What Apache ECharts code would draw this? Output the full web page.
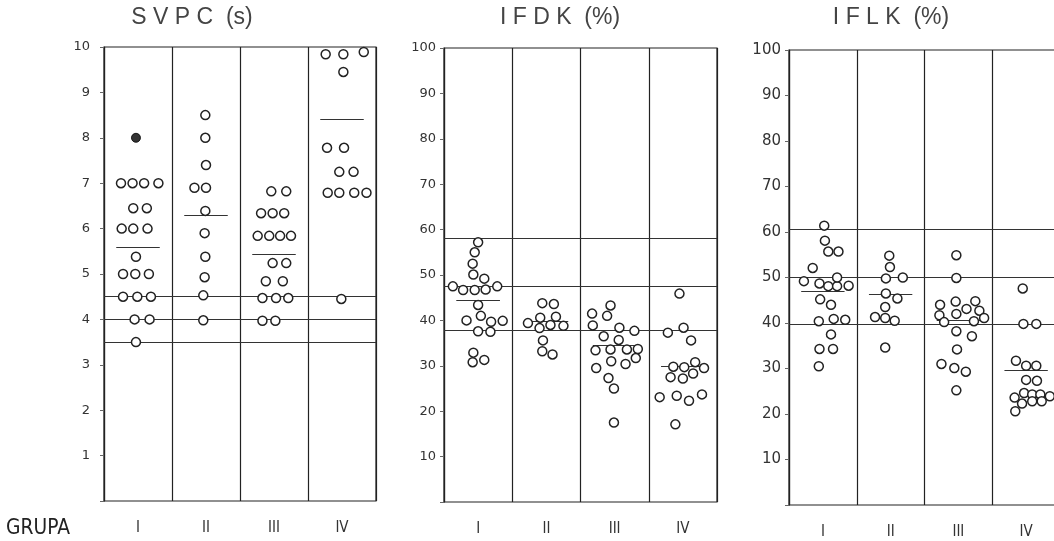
<!DOCTYPE html>
<html>
<head>
<meta charset="utf-8">
<script src="https://cdn.jsdelivr.net/npm/echarts@6/dist/echarts.min.js"></script>
<style>
html,body{margin:0;padding:0;background:#fff;overflow:hidden;width:1054px;height:541px;}
#chart{width:1080px;height:541px;}
</style>
</head>
<body>
<div id="chart"></div>
<script>
// ---- data ----
const groups = ['I', 'II', 'III', 'IV'];
const groupAxisTitle = 'GRUPA';
const titles = ['S V P C  (s)', 'I F D K  (%)', 'I F L K  (%)'];

// each point: [slot within the group's column (0..1), value]
const svpcI = [[0.25,7.0],[0.42,7.0],[0.59,7.0],[0.80,7.0],[0.43,6.45],[0.63,6.45],[0.26,6.0],[0.43,6.0],[0.64,6.0],[0.47,5.38],[0.28,5.0],[0.46,5.0],[0.66,5.0],[0.28,4.5],[0.49,4.5],[0.69,4.5],[0.45,4.0],[0.67,4.0],[0.47,3.5]];
const svpcIFilled = [[0.47,8.0]];
const svpcII = [[0.49,8.5],[0.49,8.0],[0.50,7.4],[0.33,6.9],[0.50,6.9],[0.49,6.39],[0.48,5.9],[0.49,5.38],[0.48,4.93],[0.46,4.53],[0.46,3.98]];
const svpcIII = [[0.46,6.82],[0.68,6.82],[0.31,6.34],[0.48,6.34],[0.65,6.34],[0.26,5.84],[0.43,5.84],[0.59,5.84],[0.75,5.84],[0.48,5.24],[0.68,5.24],[0.38,4.84],[0.63,4.84],[0.33,4.47],[0.53,4.47],[0.71,4.47],[0.33,3.97],[0.52,3.97]];
const svpcIV = [[0.26,9.84],[0.52,9.84],[0.82,9.89],[0.52,9.45],[0.28,7.78],[0.53,7.78],[0.46,7.25],[0.67,7.25],[0.29,6.79],[0.46,6.79],[0.68,6.79],[0.86,6.79],[0.49,4.45]];
const svpcMeans = [5.58, 6.29, 5.43, 8.4];
const svpcRefs = [4.5, 4.0, 3.5];

const ifdkI = [[0.50,57.2],[0.45,55.0],[0.42,52.5],[0.43,50.1],[0.59,49.2],[0.13,47.5],[0.28,46.7],[0.45,46.7],[0.61,46.8],[0.78,47.5],[0.50,43.4],[0.54,41.0],[0.33,40.0],[0.69,39.7],[0.86,39.9],[0.50,37.6],[0.68,37.5],[0.43,32.9],[0.42,30.8],[0.59,31.3]];
const ifdkII = [[0.44,43.8],[0.61,43.6],[0.41,40.6],[0.64,40.8],[0.23,39.4],[0.40,38.3],[0.56,39.0],[0.75,38.8],[0.45,35.6],[0.44,33.2],[0.59,32.5]];
const ifdkIII = [[0.44,43.3],[0.17,41.5],[0.39,41.0],[0.18,38.9],[0.57,38.4],[0.79,37.7],[0.34,36.5],[0.56,35.7],[0.22,33.4],[0.44,33.6],[0.68,33.6],[0.84,33.7],[0.45,31.0],[0.66,30.4],[0.81,31.7],[0.23,29.5],[0.41,27.3],[0.49,25.0],[0.49,17.5]];
const ifdkIV = [[0.45,45.9],[0.28,37.3],[0.51,38.4],[0.62,35.6],[0.36,29.8],[0.52,29.7],[0.68,30.8],[0.81,29.5],[0.32,27.5],[0.50,27.2],[0.65,28.3],[0.16,23.1],[0.41,23.4],[0.59,22.3],[0.78,23.7],[0.39,17.1]];
const ifdkMeans = [44.4, 39.9, 34.6, 29.8];
const ifdkRefs = [58.2, 47.6, 37.8];

const iflkI = [[0.52,61.4],[0.53,58.1],[0.58,55.7],[0.73,55.7],[0.35,52.1],[0.22,49.2],[0.45,48.7],[0.58,48.1],[0.71,48.1],[0.88,48.2],[0.71,50.0],[0.46,45.2],[0.62,44.0],[0.44,40.4],[0.66,40.9],[0.83,40.7],[0.62,37.5],[0.45,34.3],[0.65,34.3],[0.44,30.5]];
const iflkII = [[0.48,54.8],[0.49,52.3],[0.43,49.8],[0.68,50.0],[0.43,46.5],[0.60,45.4],[0.42,43.5],[0.27,41.3],[0.42,41.1],[0.56,40.5],[0.42,34.6]];
const iflkIII = [[0.47,54.9],[0.47,49.9],[0.23,44.0],[0.46,44.7],[0.62,43.1],[0.75,44.8],[0.81,42.7],[0.22,41.7],[0.47,42.0],[0.29,40.2],[0.73,40.4],[0.88,41.1],[0.47,38.2],[0.70,37.1],[0.48,34.2],[0.25,31.0],[0.44,30.1],[0.61,29.3],[0.47,25.2]];
const iflkIV = [[0.45,47.6],[0.46,39.8],[0.65,39.8],[0.35,31.7],[0.50,30.6],[0.65,30.6],[0.50,27.5],[0.66,27.3],[0.47,24.6],[0.33,23.6],[0.59,24.3],[0.71,24.3],[0.85,23.9],[0.59,22.8],[0.73,22.8],[0.44,22.3],[0.34,20.6]];
const iflkMeans = [47.0, 46.3, 40.6, 29.7];
const iflkRefs = [60.5, 50.0, 39.8];

const svpcMax = 10, svpcStep = 1;
const pctMax = 100, pctStep = 10;

// ---- build ----
const panels = [
  { groups: [svpcI, svpcII, svpcIII, svpcIV], filled: [svpcIFilled, [], [], []], means: svpcMeans, refs: svpcRefs, max: svpcMax, step: svpcStep },
  { groups: [ifdkI, ifdkII, ifdkIII, ifdkIV], filled: [[], [], [], []], means: ifdkMeans, refs: ifdkRefs, max: pctMax, step: pctStep },
  { groups: [iflkI, iflkII, iflkIII, iflkIV], filled: [[], [], [], []], means: iflkMeans, refs: iflkRefs, max: pctMax, step: pctStep }
];

const gridBoxes = [
  { left: 104, top: 47, width: 272, height: 454 },
  { left: 444, top: 48, width: 273, height: 454 },
  { left: 789, top: 50, width: 271, height: 455 }
];
const titleX = [192, 560, 891];
const ink = '#222';
const labelFont = '"DejaVu Sans", sans-serif';

const grid = [], xAxis = [], yAxis = [], series = [];
panels.forEach((p, i) => {
  grid.push(Object.assign({ show: true, borderColor: ink, borderWidth: 1.2, backgroundColor: 'transparent' }, gridBoxes[i]));
  xAxis.push({
    type: 'value', gridIndex: i, min: 0, max: groups.length, interval: 1,
    axisLine: { show: false }, axisTick: { show: false }, axisLabel: { show: false },
    splitLine: { show: true, lineStyle: { color: ink, width: 1.2 } }
  });
  xAxis.push({
    type: 'category', gridIndex: i, data: groups, position: 'bottom',
    axisLine: { show: false }, axisTick: { show: false }, splitLine: { show: false },
    axisLabel: { margin: 20, fontSize: 15, color: '#333', fontFamily: '"DejaVu Sans Condensed", sans-serif' }
  });
  yAxis.push({
    type: 'value', gridIndex: i, min: 0, max: p.max, interval: p.step,
    axisLine: { show: true, lineStyle: { color: ink, width: 1.2 } },
    axisTick: { show: true, length: 4, lineStyle: { color: '#666' } },
    splitLine: { show: false },
    axisLabel: {
      margin: i === 0 ? 14 : 8, fontSize: i === 2 ? 15 : 13, color: '#333', fontFamily: labelFont,
      formatter: v => (v === 0 ? '' : String(v))
    }
  });
  const open = [], filled = [];
  p.groups.forEach((arr, g) => arr.forEach(pt => open.push([g + pt[0], pt[1]])));
  p.filled.forEach((arr, g) => arr.forEach(pt => filled.push([g + pt[0], pt[1]])));
  const meanLines = p.means.map((m, g) => [{ coord: [g + 0.18, m] }, { coord: [g + 0.82, m] }]);
  const refLines = p.refs.map(v => ({ yAxis: v }));
  series.push({
    type: 'scatter', xAxisIndex: i * 2, yAxisIndex: i, data: open,
    symbol: 'circle', symbolSize: 9,
    itemStyle: { color: '#fff', borderColor: ink, borderWidth: 1.5, opacity: 1 },
    z: 5,
    markLine: {
      silent: true, symbol: ['none', 'none'], label: { show: false }, animation: false,
      lineStyle: { color: '#333', width: 1.1, type: 'solid' },
      data: meanLines.concat(refLines)
    }
  });
  if (filled.length) {
    series.push({
      type: 'scatter', xAxisIndex: i * 2, yAxisIndex: i, data: filled,
      symbol: 'circle', symbolSize: 9, z: 6,
      itemStyle: { color: '#000', borderColor: '#000', borderWidth: 1 }
    });
  }
});

const graphic = titles.map((t, i) => ({
  type: 'text', x: titleX[i], y: 18,
  style: { text: t, fill: '#444', font: '23px "Liberation Sans", Arial, sans-serif', textAlign: 'center', textVerticalAlign: 'middle' }
}));
graphic.push({
  type: 'text', x: 6, y: 528, scaleX: 0.85,
  style: { text: groupAxisTitle, fill: '#222', font: '22px "DejaVu Sans", sans-serif', textAlign: 'left', textVerticalAlign: 'middle' }
});

const chart = echarts.init(document.getElementById('chart'), null, { renderer: 'canvas' });
chart.setOption({
  animation: false,
  backgroundColor: '#fff',
  grid, xAxis, yAxis, series, graphic
});
</script>
</body>
</html>
